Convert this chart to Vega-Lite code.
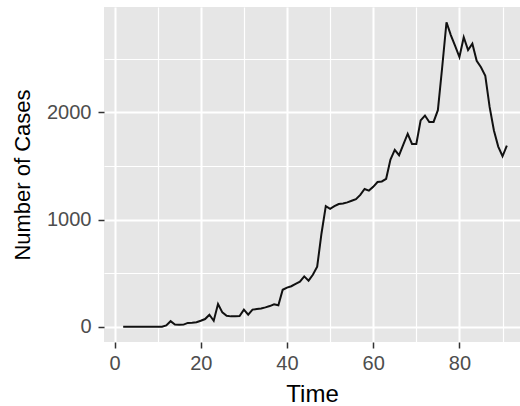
{
  "$schema": "https://vega.github.io/schema/vega-lite/v6.json",
  "autosize": "none",
  "padding": {"left": 104, "top": 7, "right": 0, "bottom": 64},
  "width": 416,
  "height": 335,
  "background": "white",
  "view": {"fill": "#e6e6e6", "stroke": null},
  "config": {
    "font": "Liberation Sans",
    "axis": {
      "domain": false,
      "gridColor": "white",
      "tickColor": "#333333",
      "tickSize": 6,
      "tickWidth": 1.5,
      "labelColor": "#4d4d4d",
      "labelFontSize": 20,
      "labelFont": "Liberation Sans",
      "titleFont": "Liberation Sans",
      "titleColor": "black",
      "titleFontWeight": "normal"
    }
  },
  "data": {
    "values": [
      {"time": 2, "cases": 0}, {"time": 3, "cases": 0}, {"time": 4, "cases": 0}, {"time": 5, "cases": 0},
      {"time": 6, "cases": 0}, {"time": 7, "cases": 0}, {"time": 8, "cases": 0}, {"time": 9, "cases": 0},
      {"time": 10, "cases": 0}, {"time": 11, "cases": 0}, {"time": 12, "cases": 12}, {"time": 13, "cases": 52},
      {"time": 14, "cases": 20}, {"time": 15, "cases": 19}, {"time": 16, "cases": 20}, {"time": 17, "cases": 36},
      {"time": 18, "cases": 38}, {"time": 19, "cases": 42}, {"time": 20, "cases": 56}, {"time": 21, "cases": 72},
      {"time": 22, "cases": 112}, {"time": 23, "cases": 56}, {"time": 24, "cases": 212}, {"time": 25, "cases": 134},
      {"time": 26, "cases": 103}, {"time": 27, "cases": 97}, {"time": 28, "cases": 97}, {"time": 29, "cases": 100},
      {"time": 30, "cases": 159}, {"time": 31, "cases": 112}, {"time": 32, "cases": 160}, {"time": 33, "cases": 165},
      {"time": 34, "cases": 170}, {"time": 35, "cases": 181}, {"time": 36, "cases": 193}, {"time": 37, "cases": 210},
      {"time": 38, "cases": 200}, {"time": 39, "cases": 345}, {"time": 40, "cases": 365}, {"time": 41, "cases": 378},
      {"time": 42, "cases": 400}, {"time": 43, "cases": 420}, {"time": 44, "cases": 470}, {"time": 45, "cases": 430},
      {"time": 46, "cases": 485}, {"time": 47, "cases": 560}, {"time": 48, "cases": 870}, {"time": 49, "cases": 1125},
      {"time": 50, "cases": 1100}, {"time": 51, "cases": 1125}, {"time": 52, "cases": 1145}, {"time": 53, "cases": 1150},
      {"time": 54, "cases": 1160}, {"time": 55, "cases": 1175}, {"time": 56, "cases": 1190}, {"time": 57, "cases": 1230},
      {"time": 58, "cases": 1285}, {"time": 59, "cases": 1270}, {"time": 60, "cases": 1305}, {"time": 61, "cases": 1350},
      {"time": 62, "cases": 1355}, {"time": 63, "cases": 1380}, {"time": 64, "cases": 1560}, {"time": 65, "cases": 1650},
      {"time": 66, "cases": 1600}, {"time": 67, "cases": 1700}, {"time": 68, "cases": 1800}, {"time": 69, "cases": 1705},
      {"time": 70, "cases": 1705}, {"time": 71, "cases": 1925}, {"time": 72, "cases": 1970}, {"time": 73, "cases": 1910},
      {"time": 74, "cases": 1910}, {"time": 75, "cases": 2020}, {"time": 76, "cases": 2420}, {"time": 77, "cases": 2840},
      {"time": 78, "cases": 2720}, {"time": 79, "cases": 2620}, {"time": 80, "cases": 2515}, {"time": 81, "cases": 2700},
      {"time": 82, "cases": 2580}, {"time": 83, "cases": 2640}, {"time": 84, "cases": 2480}, {"time": 85, "cases": 2420},
      {"time": 86, "cases": 2340}, {"time": 87, "cases": 2050}, {"time": 88, "cases": 1830}, {"time": 89, "cases": 1680},
      {"time": 90, "cases": 1590}, {"time": 91, "cases": 1690}
    ]
  },
  "mark": {"type": "line", "color": "#111111", "strokeWidth": 2},
  "encoding": {
    "x": {
      "field": "time",
      "type": "quantitative",
      "scale": {"domain": [-2.45, 94.05], "nice": false, "zero": false},
      "axis": {
        "title": "Time",
        "titleFontSize": 24,
        "titlePadding": 9,
        "values": [0, 10, 20, 30, 40, 50, 60, 70, 80, 90],
        "labelExpr": "datum.value % 20 === 0 ? datum.label : ''",
        "labelPadding": 5,
        "labelFlush": false,
        "labelOverlap": false,
        "tickOpacity": {"condition": {"test": "datum.value % 20 === 0", "value": 1}, "value": 0},
        "gridWidth": {"condition": {"test": "datum.value % 20 === 0", "value": 2}, "value": 1.2}
      }
    },
    "y": {
      "field": "cases",
      "type": "quantitative",
      "scale": {"domain": [-142, 2982], "nice": false, "zero": false},
      "axis": {
        "title": "Number of Cases",
        "titleFontSize": 22,
        "titlePadding": 12,
        "format": "d",
        "values": [0, 500, 1000, 1500, 2000, 2500],
        "labelExpr": "datum.value % 1000 === 0 ? datum.label : ''",
        "labelPadding": 7,
        "labelFlush": false,
        "labelOverlap": false,
        "tickOpacity": {"condition": {"test": "datum.value % 1000 === 0", "value": 1}, "value": 0},
        "gridWidth": {"condition": {"test": "datum.value % 1000 === 0", "value": 2}, "value": 1.2}
      }
    }
  }
}
